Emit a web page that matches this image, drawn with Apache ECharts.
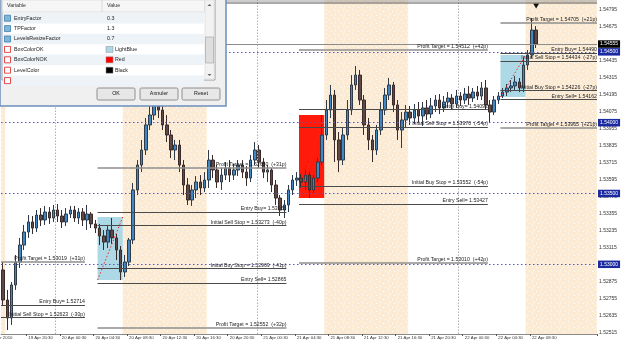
<!DOCTYPE html>
<html>
<head>
<meta charset="utf-8">
<script src="https://cdn.jsdelivr.net/npm/echarts@6/dist/echarts.min.js"></script>
<style>html,body{margin:0;padding:0;background:#fff}#main{width:625px;height:346px}</style>
</head>
<body>
<div id="main"></div>
<script>
// EURUSD-like M30 bars, 19 Apr 17:30 -> 22 Apr 09:00
var opens = [1.52960,1.52748,1.52621,1.52854,1.53016,1.53136,1.53228,1.53299,1.53256,1.53348,
  1.53313,1.53369,1.53327,1.53383,1.53341,1.53299,1.53355,1.53383,1.53327,1.53369,
  1.53313,1.53355,1.53285,1.53256,1.53200,1.53157,1.53242,1.53186,1.53101,1.52946,
  1.53016,1.53172,1.53525,1.53701,1.53807,1.53984,1.54054,1.54160,1.54089,1.53984,
  1.53913,1.53807,1.53842,1.53701,1.53560,1.53454,1.53525,1.53581,1.53539,1.53595,
  1.53736,1.53666,1.53581,1.53630,1.53680,1.53630,1.53666,1.53701,1.53651,1.53609,
  1.53736,1.53807,1.53722,1.53651,1.53666,1.53560,1.53468,1.53383,1.53419,1.53525,
  1.53595,1.53609,1.53581,1.53630,1.53525,1.53609,1.53722,1.53913,1.54089,1.54195,
  1.53878,1.53736,1.53913,1.54089,1.54266,1.54336,1.54160,1.53984,1.53878,1.53807,
  1.53948,1.54089,1.54195,1.54266,1.54125,1.53948,1.54019,1.54075,1.54033,1.54089,
  1.54047,1.54104,1.54061,1.54118,1.54160,1.54104,1.54146,1.54174,1.54132,1.54188,
  1.54160,1.54202,1.54174,1.54216,1.54188,1.54245,1.54125,1.54075,1.54160,1.54188,
  1.54216,1.54245,1.54259,1.54287,1.54245,1.54407,1.54478,1.54654];
var highs = [1.53016,1.52819,1.52875,1.53066,1.53186,1.53278,1.53348,1.53341,1.53383,1.53397,
  1.53412,1.53404,1.53419,1.53426,1.53383,1.53397,1.53412,1.53412,1.53397,1.53397,
  1.53419,1.53369,1.53313,1.53285,1.53242,1.53278,1.53327,1.53214,1.53129,1.53066,
  1.53186,1.53574,1.53736,1.53878,1.54033,1.54125,1.54195,1.54188,1.54132,1.54054,
  1.53948,1.53878,1.53878,1.53736,1.53609,1.53560,1.53623,1.53630,1.53651,1.53807,
  1.53772,1.53701,1.53680,1.53722,1.53736,1.53708,1.53736,1.53736,1.53694,1.53772,
  1.53863,1.53842,1.53750,1.53701,1.53680,1.53595,1.53489,1.53454,1.53560,1.53630,
  1.53651,1.53637,1.53666,1.53651,1.53630,1.53750,1.54054,1.54160,1.54266,1.54231,
  1.53934,1.53963,1.54160,1.54336,1.54400,1.54372,1.54195,1.54033,1.53913,1.53984,
  1.54146,1.54245,1.54315,1.54287,1.54160,1.54075,1.54125,1.54118,1.54132,1.54146,
  1.54146,1.54160,1.54174,1.54195,1.54202,1.54188,1.54216,1.54202,1.54231,1.54216,
  1.54245,1.54259,1.54245,1.54259,1.54287,1.54301,1.54160,1.54188,1.54216,1.54245,
  1.54273,1.54301,1.54329,1.54315,1.54457,1.54513,1.54739,1.54682];
var lows = [1.52713,1.52536,1.52572,1.52819,1.52974,1.53101,1.53186,1.53214,1.53228,1.53270,
  1.53278,1.53285,1.53299,1.53299,1.53256,1.53270,1.53327,1.53299,1.53285,1.53270,
  1.53242,1.53256,1.53221,1.53136,1.53101,1.53115,1.53143,1.53030,1.52889,1.52910,
  1.52988,1.53143,1.53489,1.53651,1.53772,1.53948,1.54019,1.54033,1.53948,1.53863,
  1.53750,1.53736,1.53651,1.53489,1.53419,1.53412,1.53468,1.53489,1.53510,1.53539,
  1.53609,1.53539,1.53525,1.53595,1.53581,1.53595,1.53623,1.53609,1.53553,1.53581,
  1.53701,1.53680,1.53609,1.53581,1.53510,1.53419,1.53341,1.53327,1.53369,1.53489,
  1.53553,1.53539,1.53525,1.53468,1.53496,1.53581,1.53701,1.53878,1.54033,1.53722,
  1.53651,1.53701,1.53878,1.54054,1.54231,1.54125,1.53913,1.53807,1.53722,1.53772,
  1.53913,1.54054,1.54160,1.54075,1.53878,1.53821,1.53963,1.53984,1.53991,1.54005,
  1.53977,1.54019,1.54033,1.54075,1.54061,1.54075,1.54104,1.54089,1.54104,1.54118,
  1.54132,1.54125,1.54146,1.54160,1.54160,1.54089,1.53998,1.54054,1.54132,1.54174,
  1.54188,1.54216,1.54231,1.54216,1.54216,1.54372,1.54457,1.54527];
var closes = [1.52748,1.52621,1.52854,1.53016,1.53136,1.53228,1.53299,1.53256,1.53348,1.53313,
  1.53369,1.53327,1.53383,1.53341,1.53299,1.53355,1.53383,1.53327,1.53369,1.53313,
  1.53355,1.53285,1.53256,1.53200,1.53157,1.53242,1.53186,1.53101,1.52946,1.53016,
  1.53172,1.53525,1.53701,1.53807,1.53984,1.54054,1.54160,1.54089,1.53984,1.53913,
  1.53807,1.53842,1.53701,1.53560,1.53454,1.53525,1.53581,1.53539,1.53595,1.53736,
  1.53666,1.53581,1.53630,1.53680,1.53630,1.53666,1.53701,1.53651,1.53609,1.53736,
  1.53807,1.53722,1.53651,1.53666,1.53560,1.53468,1.53383,1.53419,1.53525,1.53595,
  1.53609,1.53581,1.53630,1.53525,1.53609,1.53722,1.53913,1.54089,1.54195,1.53878,
  1.53736,1.53913,1.54089,1.54266,1.54336,1.54160,1.53984,1.53878,1.53807,1.53948,
  1.54089,1.54195,1.54266,1.54125,1.53948,1.54019,1.54075,1.54033,1.54089,1.54047,
  1.54104,1.54061,1.54118,1.54160,1.54104,1.54146,1.54174,1.54132,1.54188,1.54160,
  1.54202,1.54174,1.54216,1.54188,1.54245,1.54125,1.54075,1.54160,1.54188,1.54216,
  1.54245,1.54259,1.54287,1.54245,1.54407,1.54478,1.54654,1.54555];

var barCount = 142;           // slots on the time axis (incl. chart shift)
var firstBar = Date.UTC(2010, 3, 19, 17, 30);
var timeLabels = ['19 Apr 20:30','20 Apr 00:30','20 Apr 04:30','20 Apr 08:30','20 Apr 12:30',
  '20 Apr 16:30','20 Apr 20:30','21 Apr 00:30','21 Apr 04:30','21 Apr 08:30','21 Apr 12:30',
  '21 Apr 16:30','21 Apr 20:30','22 Apr 00:30','22 Apr 04:30','22 Apr 08:30'];
var priceTicks = [1.52515,1.52635,1.52755,1.52875,1.52995,1.53115,1.53235,1.53355,1.53475,1.53595,
  1.53715,1.53835,1.53955,1.54075,1.54195,1.54315,1.54435,1.54555,1.54675,1.54795];
var priceMin = 1.52508, priceMax = 1.54866;
var roundLevels = [1.53000, 1.53500, 1.54000, 1.54500];
var bidPrice = 1.54555;

// sessions 08:00-18:00 and day separators, as bar indexes
var sessionFrom = [-19, 29, 77, 125];
var sessionTo = [1, 49, 97, 145];
var daySeparators = [13, 61, 109];

// range boxes 05:00-08:00
var boxFrom = [23, 71, 119];
var boxTo = [29, 77, 125];
var boxHigh = [1.53334, 1.54054, 1.54478];
var boxLow = [1.52889, 1.53468, 1.54181];
var boxOk = [true, false, true];

// level sets drawn from each box
var levelFrom = [-25, 23, 71, 119];
var levelTo = [20, 68, 116, 164];
var levelNames = [
  ['Profit Target', 'Entry Buy', 'Initial Sell Stop'],
  ['Profit Target', 'Entry Buy', 'Initial Sell Stop', 'Initial Buy Stop', 'Entry Sell', 'Profit Target'],
  ['Profit Target', 'Entry Buy', 'Initial Sell Stop', 'Initial Buy Stop', 'Entry Sell', 'Profit Target'],
  ['Profit Target', 'Entry Buy', 'Initial Sell Stop', 'Initial Buy Stop', 'Entry Sell', 'Profit Target']
];
var levelPrices = [
  [1.53019, 1.52714, 1.52623],
  [1.53680, 1.53366, 1.53273, 1.52969, 1.52865, 1.52552],
  [1.54512, 1.54092, 1.53970, 1.53552, 1.53427, 1.53010],
  [1.54705, 1.54490, 1.54434, 1.54226, 1.54162, 1.53965]
];
var levelPips = [
  ['+31p', '', '-30p'],
  ['+31p', '', '-40p', '-41p', '', '+32p'],
  ['+42p', '', '-54p', '-54p', '', '+42p'],
  ['+21p', '', '-27p', '-27p', '', '+21p']
];

var paramNames = ['EntryFactor', 'TPFactor', 'LevelsResizeFactor', 'BoxColorOK', 'BoxColorNOK', 'LevelColor'];
var paramValues = ['0.3', '1.3', '0.7', 'LightBlue', 'Red', 'Black'];
var paramSwatch = [null, null, null, '#add8e6', '#ff0000', '#000000'];

var months = ['Jan','Feb','Mar','Apr','May','Jun','Jul','Aug','Sep','Oct','Nov','Dec'];
function pad(n) { return (n < 10 ? '0' : '') + n; }
var categories = [];
for (var i = 0; i < barCount; i++) {
  var d = new Date(firstBar + i * 30 * 60000);
  categories.push(pad(d.getUTCDate()) + ' ' + months[d.getUTCMonth()] + ' ' + pad(d.getUTCHours()) + ':' + pad(d.getUTCMinutes()));
}
var ohlc = [];
for (var i = 0; i < opens.length; i++) ohlc.push([opens[i], closes[i], lows[i], highs[i]]);

// peach session fill with the little white dots MT4 draws
var pat = document.createElement('canvas');
pat.width = 9; pat.height = 8;
var pctx = pat.getContext('2d');
pctx.fillStyle = '#fcebd4'; pctx.fillRect(0, 0, 9, 8);
pctx.fillStyle = '#ffffff';
pctx.fillRect(1, 1, 1, 1); pctx.fillRect(5, 3, 1, 1); pctx.fillRect(2, 6, 1, 1); pctx.fillRect(7, 7, 1, 1);

function clampX(v) { return Math.max(0, Math.min(barCount, v)); }

var bandData = [];
for (var i = 0; i < sessionFrom.length; i++) {
  bandData.push([{ xAxis: clampX(sessionFrom[i]) }, { xAxis: clampX(sessionTo[i]) }]);
}
var boxData = [], diagData = [];
for (var i = 0; i < boxFrom.length; i++) {
  boxData.push([
    { coord: [boxFrom[i], boxHigh[i]], itemStyle: { color: boxOk[i] ? '#add8e6' : '#ff1a0a' } },
    { coord: [boxTo[i], boxLow[i]] }
  ]);
  diagData.push([{ coord: [boxFrom[i], boxLow[i]] }, { coord: [boxTo[i], boxHigh[i]] }]);
}
var levelData = [];
for (var s = 0; s < levelPrices.length; s++) {
  for (var k = 0; k < levelPrices[s].length; k++) {
    var nm = levelNames[s][k], p = levelPrices[s][k].toFixed(5);
    var txt = nm.indexOf('Entry') === 0 ? nm + '= ' + p : nm + ' = ' + p + '  (' + levelPips[s][k] + ')';
    var target = nm === 'Profit Target';
    levelData.push([
      { name: txt, coord: [clampX(levelFrom[s]), levelPrices[s][k]],
        lineStyle: { color: target ? '#8e8e8e' : '#4a4a4a', width: target ? 1.7 : 1, type: 'solid' } },
      { coord: [clampX(levelTo[s]), levelPrices[s][k]] }
    ]);
  }
}
function tagLabel(bg) {
  return { show: true, position: 'end', distance: 1, formatter: '{b}',
    backgroundColor: bg, color: '#fff', fontSize: 5, padding: [1.5, 2, 1, 2] };
}
function hLine(v, style, label) {
  return [{ name: v.toFixed(5), coord: [0, v], lineStyle: style, label: label }, { coord: [barCount, v] }];
}
var guideData = [];
roundLevels.forEach(function (v) {
  guideData.push(hLine(v, { color: '#5656c8', type: [1.5, 2.5], width: 1 }, tagLabel('#1b2aa0')));
});
guideData.push(hLine(bidPrice, { color: '#8c8c8c', type: 'solid', width: 1 }, tagLabel('#000000')));
daySeparators.forEach(function (v) {
  guideData.push([{ coord: [v, priceMin], lineStyle: { color: '#b0b0b0', type: [1.5, 1.5], width: 1 }, label: { show: false } },
    { coord: [v, priceMax] }]);
});

// properties dialog (an MT4 window lying over the chart)
var g = [];
var fz = 5.3, fnt = 'Liberation Sans';
g.push({ type: 'line', shape: { x1: 226, y1: 1, x2: 597, y2: 1 }, style: { stroke: '#9a9a9a', lineWidth: 1 }, z: 50 });
g.push({ type: 'line', shape: { x1: 226, y1: 3, x2: 597, y2: 3 }, style: { stroke: '#555', lineWidth: 1 }, z: 50 });
g.push({ type: 'text', x: -11, y: 336, style: { text: '19 Apr 2010', fontSize: 4.3, fill: '#333', fontFamily: fnt }, z: 50 });
g.push({ type: 'rect', shape: { x: 0, y: -1, width: 226, height: 107 }, style: { fill: '#f0f0f0', stroke: '#6c8ebf', lineWidth: 1.5 }, z: 60 });
g.push({ type: 'rect', shape: { x: 2, y: -1, width: 213, height: 81 }, style: { fill: '#fff', stroke: '#9c9c9c' }, z: 61 });
g.push({ type: 'rect', shape: { x: 2.5, y: 0, width: 202, height: 12 }, style: { fill: '#f6f6f6', stroke: '#e0e0e0' }, z: 62 });
g.push({ type: 'line', shape: { x1: 102, y1: 0, x2: 102, y2: 12 }, style: { stroke: '#d8d8d8' }, z: 63 });
g.push({ type: 'text', x: 7, y: 6, style: { text: 'Variable', fontSize: fz, fill: '#333', verticalAlign: 'middle', fontFamily: fnt }, z: 63 });
g.push({ type: 'text', x: 107, y: 6, style: { text: 'Value', fontSize: fz, fill: '#333', verticalAlign: 'middle', fontFamily: fnt }, z: 63 });
for (var r = 0; r < paramNames.length + 1; r++) {
  var rowTop = 13 + r * 10.4, cy = rowTop + 5.2;
  if (r % 2 === 0) g.push({ type: 'rect', shape: { x: 3, y: rowTop, width: 201, height: 10.4 }, style: { fill: '#eef3f8' }, z: 62 });
  var isColor = r >= 3;
  g.push({ type: 'rect', shape: { x: 4.5, y: cy - 3, width: 6, height: 6 }, style: { fill: isColor ? '#fff' : '#7fb6d8', stroke: isColor ? '#d22' : '#3c7fae', lineWidth: 0.8 }, z: 63 });
  if (r >= paramNames.length) continue;
  g.push({ type: 'text', x: 14, y: cy, style: { text: paramNames[r], fontSize: fz, fill: '#222', verticalAlign: 'middle', fontFamily: fnt }, z: 63 });
  var vx = 107;
  if (paramSwatch[r]) {
    g.push({ type: 'rect', shape: { x: 106, y: cy - 3, width: 7, height: 6 }, style: { fill: paramSwatch[r], stroke: '#888', lineWidth: 0.5 }, z: 63 });
    vx = 115;
  }
  g.push({ type: 'text', x: vx, y: cy, style: { text: paramValues[r], fontSize: fz, fill: '#222', verticalAlign: 'middle', fontFamily: fnt }, z: 63 });
}
// scrollbar
g.push({ type: 'rect', shape: { x: 205, y: 0, width: 9, height: 79 }, style: { fill: '#f2f2f2', stroke: '#e2e2e2' }, z: 64 });
g.push({ type: 'rect', shape: { x: 205.5, y: 37, width: 8, height: 26 }, style: { fill: '#dedede', stroke: '#9e9e9e', lineWidth: 0.6 }, z: 65 });
g.push({ type: 'polygon', shape: { points: [[207.5, 6], [211.5, 6], [209.5, 4]] }, style: { fill: '#606060' }, z: 65 });
g.push({ type: 'polygon', shape: { points: [[207.5, 74], [211.5, 74], [209.5, 76]] }, style: { fill: '#606060' }, z: 65 });
// buttons
[['OK', 97], ['Annuler', 140], ['Reset', 182]].forEach(function (b) {
  g.push({ type: 'rect', shape: { x: b[1], y: 88, width: 38, height: 12, r: 1.5 }, style: { fill: '#e7e7e7', stroke: '#7a7a7a', lineWidth: 0.8 }, z: 62 });
  g.push({ type: 'text', x: b[1] + 19, y: 94, style: { text: b[0], fontSize: fz, fill: '#111', align: 'center', verticalAlign: 'middle', fontFamily: fnt }, z: 63 });
});

var chart = echarts.init(document.getElementById('main'), null, { renderer: 'canvas' });
var option = {
  animation: false,
  backgroundColor: '#ffffff',
  textStyle: { fontFamily: 'Liberation Sans' },
  grid: { left: 1, right: 28, top: 0, bottom: 12 },
  xAxis: [
    {
      type: 'category', data: categories, boundaryGap: true,
      axisLine: { lineStyle: { color: '#8a8a8a' } },
      axisTick: { show: true, length: 2, interval: function (idx, v) { return timeLabels.indexOf(v) >= 0; },
        lineStyle: { color: '#555' } },
      axisLabel: { interval: function (idx, v) { return timeLabels.indexOf(v) >= 0; },
        align: 'left', margin: 2, fontSize: 4.3, color: '#333' },
      splitLine: { show: false }
    },
    { type: 'value', min: 0, max: barCount, show: false }
  ],
  yAxis: {
    type: 'value', position: 'right', min: priceMin, max: priceMax,
    axisLine: { show: true, lineStyle: { color: '#8a8a8a' } },
    axisTick: { show: true, length: 2, customValues: priceTicks, lineStyle: { color: '#555' } },
    axisLabel: { customValues: priceTicks, margin: 2, fontSize: 5, color: '#333',
      formatter: function (v) { return v.toFixed(5); } },
    splitLine: { show: false }
  },
  graphic: { elements: g },
  series: [
    {
      name: 'sessions', type: 'line', xAxisIndex: 1, data: [], z: 1, silent: true,
      markArea: { silent: true, itemStyle: { color: { image: pat, repeat: 'repeat' } }, data: bandData }
    },
    {
      name: 'boxes', type: 'line', xAxisIndex: 1, data: [], z: 2, silent: true,
      markArea: { silent: true, data: boxData },
      markLine: { silent: true, symbol: ['none', 'none'], label: { show: false },
        lineStyle: { color: '#ff2a2a', type: [1.5, 2], width: 1 }, data: diagData }
    },
    {
      name: 'guides', type: 'line', xAxisIndex: 1, data: [], z: 2, silent: true,
      markLine: { silent: true, symbol: ['none', 'none'], data: guideData }
    },
    {
      name: 'levels', type: 'line', xAxisIndex: 1, data: [], z: 3, silent: true,
      markLine: {
        silent: true, symbol: ['none', 'none'],
        label: { show: true, position: 'insideEndTop', formatter: '{b}', fontSize: 5.2, color: '#222', distance: [0, 1] },
        data: levelData
      }
    },
    {
      name: 'price', type: 'candlestick', xAxisIndex: 0, z: 4, data: ohlc, barWidth: 3,
      itemStyle: { color: '#3f88c4', color0: '#5e4848', borderColor: '#2d3b4a', borderColor0: '#3a2a2a', borderWidth: 1 },
      markPoint: {
        silent: true, symbol: 'triangle', symbolRotate: 180, symbolSize: [6, 5],
        itemStyle: { color: '#111' }, label: { show: false },
        data: [{ coord: [opens.length - 1, 1.54823] }]
      }
    }
  ]
};
chart.setOption(option);
</script>
</body>
</html>
